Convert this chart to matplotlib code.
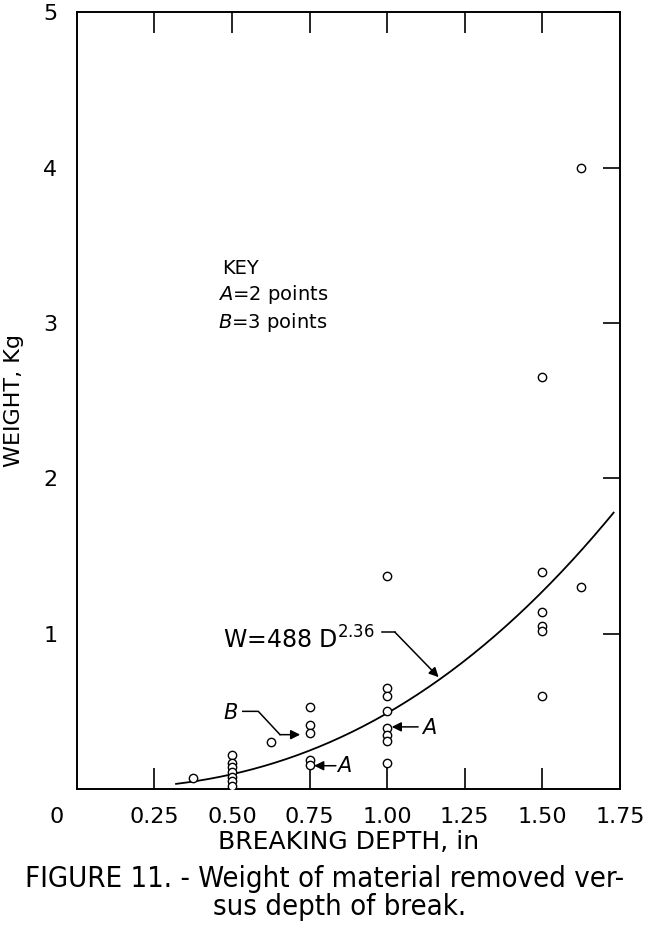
import numpy as np
import matplotlib
matplotlib.use("Agg")
import matplotlib.pyplot as plt
import matplotlib.transforms as mtransforms

plt.rcParams['font.family'] = ['DejaVu Sans']

# breaking depth (in) and weight removed (Kg)
depth = [0.375,
         0.50, 0.50, 0.50, 0.50, 0.50, 0.50, 0.50,
         0.625,
         0.75, 0.75, 0.75, 0.75, 0.75,
         1.00, 1.00, 1.00, 1.00, 1.00, 1.00, 1.00, 1.00,
         1.50, 1.50, 1.50, 1.50, 1.50, 1.50,
         1.625, 1.625]
weight = [0.07,
          0.22, 0.17, 0.14, 0.11, 0.08, 0.05, 0.02,
          0.30,
          0.53, 0.41, 0.36, 0.19, 0.155,
          1.37, 0.65, 0.60, 0.50, 0.39, 0.35, 0.31, 0.17,
          2.65, 1.40, 1.14, 1.05, 1.02, 0.60,
          1.30, 4.00]

# fitted curve W = 488 D^2.36 (grams) -> Kg
coef = 0.488
expo = 2.36
d_start, d_end = 0.32, 1.73

xticks = [0, 0.25, 0.50, 0.75, 1.00, 1.25, 1.50, 1.75]
xtick_labels = ['0', '0.25', '0.50', '0.75', '1.00', '1.25', '1.50', '1.75']
yticks = [1, 2, 3, 4, 5]

fig = plt.figure(figsize=(6.45, 9.41), dpi=100)
ax = fig.add_axes([0.119, 0.1615, 0.842, 0.8255])

ax.plot(depth, weight, 'o', ms=6, mfc='white', mec='black', mew=1.0, zorder=3)

dd = np.linspace(d_start, d_end, 200)
ax.plot(dd, coef * dd ** expo, color='black', lw=1.3, zorder=2)

ax.set_xlim(0, 1.75)
ax.set_ylim(0, 5)

for s in ax.spines.values():
    s.set_linewidth(1.4)

ax.set_xticks(xticks)
ax.set_xticklabels(xtick_labels, fontsize=16)
ax.set_yticks(yticks)
ax.set_yticklabels([str(v) for v in yticks], fontsize=16)
ax.tick_params(axis='x', direction='in', length=15, width=1.2, top=True, pad=13)
ax.tick_params(axis='y', direction='in', length=0, right=True, pad=14)
for t in ax.yaxis.get_major_ticks():
    t.tick2line.set_markersize(12)
    t.tick2line.set_markeredgewidth(1.2)
# the "0" label sits left of the origin
lab0 = ax.get_xticklabels()[0]
lab0.set_transform(lab0.get_transform() + mtransforms.ScaledTranslation(-0.2, 0, fig.dpi_scale_trans))
# hide first and last tick marks (they lie on the frame)
for i in (0, len(xticks) - 1):
    t = ax.xaxis.get_major_ticks()[i]
    t.tick1line.set_visible(False)
    t.tick2line.set_visible(False)

ax.set_xlabel('BREAKING DEPTH, in', fontsize=18, va='center')
ax.xaxis.set_label_coords(0.5, -0.068)
ax.set_ylabel('WEIGHT, Kg', fontsize=16, va='center')
ax.yaxis.set_label_coords(-0.115, 0.5)

# key
ax.text(0.47, 3.35, 'KEY', fontsize=14, ha='left', va='center')
ax.text(0.455, 3.18, r'$\mathit{A}$=2 points', fontsize=14, ha='left', va='center')
ax.text(0.455, 3.0, r'$\mathit{B}$=3 points', fontsize=14, ha='left', va='center')

# equation label with leader
ax.text(0.47, 0.96, r'W=488 D$^{2.36}$', fontsize=17, ha='left', va='center')
ax.plot([0.985, 1.025], [1.01, 1.01], color='black', lw=1.1)
ax.annotate('', xy=(1.166, 0.72), xytext=(1.025, 1.01),
            arrowprops=dict(arrowstyle='-|>', color='black', lw=1.1,
                            mutation_scale=14, shrinkA=0, shrinkB=0))

# B leader
ax.text(0.495, 0.49, r'$\mathit{B}$', fontsize=15, ha='center', va='center')
ax.plot([0.535, 0.585, 0.655], [0.50, 0.50, 0.35], color='black', lw=1.1)
ax.annotate('', xy=(0.72, 0.35), xytext=(0.655, 0.35),
            arrowprops=dict(arrowstyle='-|>', color='black', lw=1.1,
                            mutation_scale=14, shrinkA=0, shrinkB=0))

# A leaders
ax.text(0.86, 0.15, r'$\mathit{A}$', fontsize=15, ha='center', va='center')
ax.annotate('', xy=(0.765, 0.15), xytext=(0.835, 0.15),
            arrowprops=dict(arrowstyle='-|>', color='black', lw=1.1,
                            mutation_scale=14, shrinkA=0, shrinkB=0))
ax.text(1.135, 0.39, r'$\mathit{A}$', fontsize=15, ha='center', va='center')
ax.annotate('', xy=(1.015, 0.40), xytext=(1.10, 0.40),
            arrowprops=dict(arrowstyle='-|>', color='black', lw=1.1,
                            mutation_scale=14, shrinkA=0, shrinkB=0))

fig.text(0.038, 0.066, 'FIGURE 11. - Weight of material removed ver-',
         fontsize=21, ha='left', va='center', fontstretch='condensed')
fig.text(0.527, 0.036, 'sus depth of break.', fontsize=21, ha='center', va='center',
         fontstretch='condensed')

fig.savefig('out.png', dpi=100, facecolor='white')
